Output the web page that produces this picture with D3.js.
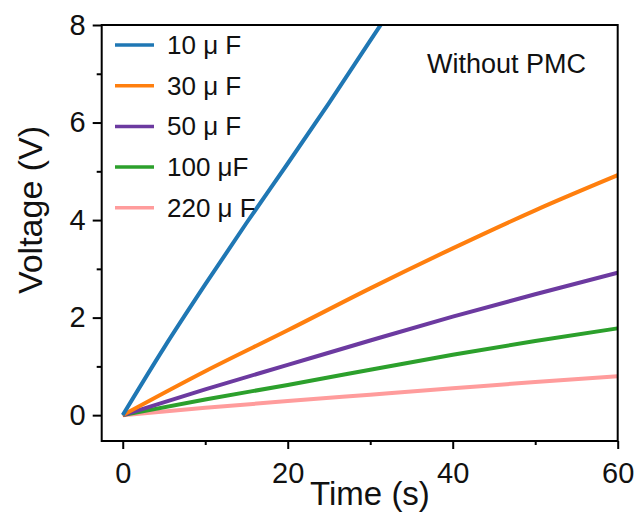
<!DOCTYPE html>
<html>
<head>
<meta charset="utf-8">
<script src="https://cdn.jsdelivr.net/npm/d3@7"></script>
<style>
  body { margin: 0; background: #fff; }
  svg text { font-family: "Liberation Sans", Arial, sans-serif; fill: #111; }
</style>
</head>
<body>
<div id="chart"></div>
<script>
// data
var times = [0, 10, 20, 30, 40, 50, 60];
var blueTimes = [0, 5, 10, 15, 20, 25, 30, 35];
var c10 = [0, 1.38, 2.68, 3.94, 5.16, 6.4, 7.68, 8.95];
var c30 = [0, 0.9, 1.74, 2.6, 3.42, 4.2, 4.92];
var c50 = [0, 0.53, 1.03, 1.53, 2.02, 2.48, 2.92];
var c100 = [0, 0.32, 0.62, 0.93, 1.24, 1.52, 1.78];
var c220 = [0, 0.15, 0.29, 0.42, 0.55, 0.68, 0.8];
var labels = ["10 μ F", "30 μ F", "50 μ F", "100 μF", "220 μ F"];
var colors = ["#1f77b4", "#ff7f0e", "#6c3aa0", "#2ca02c", "#ff9c9c"];
var xTicks = [0, 20, 40, 60];
var xMinor = [10, 30, 50];
var yTicks = [0, 2, 4, 6, 8];
var yMinor = [1, 3, 5, 7];

var width = 639, height = 516;
var margin = {top: 25, right: 21.3, bottom: 75, left: 101.7};

var series = [
  {t: blueTimes, v: c10},
  {t: times, v: c30},
  {t: times, v: c50},
  {t: times, v: c100},
  {t: times, v: c220}
];

var svg = d3.select("#chart").append("svg")
  .attr("width", width)
  .attr("height", height);

var x = d3.scaleLinear().domain([-2.55, 60]).range([margin.left, width - margin.right]);
var y = d3.scaleLinear().domain([-0.53, 8]).range([height - margin.bottom, margin.top]);

svg.append("clipPath").attr("id", "clip")
  .append("rect")
  .attr("x", margin.left).attr("y", margin.top)
  .attr("width", width - margin.left - margin.right)
  .attr("height", height - margin.top - margin.bottom);

var line = d3.line()
  .x(function(d) { return x(d[0]); })
  .y(function(d) { return y(d[1]); })
  .curve(d3.curveMonotoneX);

// draw smaller ones first so blue sits on top
series.slice().reverse().forEach(function(s, i) {
  var idx = series.length - 1 - i;
  var pts = s.t.map(function(t, j) { return [t, s.v[j]]; });
  svg.append("path")
    .datum(pts)
    .attr("clip-path", "url(#clip)")
    .attr("fill", "none")
    .attr("stroke", colors[idx])
    .attr("stroke-width", 4)
    .attr("d", line);
});

// frame
svg.append("rect")
  .attr("x", margin.left).attr("y", margin.top)
  .attr("width", width - margin.left - margin.right)
  .attr("height", height - margin.top - margin.bottom)
  .attr("fill", "none")
  .attr("stroke", "#000")
  .attr("stroke-width", 2);

// axes
svg.append("g")
  .attr("transform", "translate(0," + (height - margin.bottom) + ")")
  .call(d3.axisBottom(x).tickValues(xTicks).tickSize(8).tickPadding(13));
svg.append("g")
  .attr("transform", "translate(0," + (height - margin.bottom) + ")")
  .call(d3.axisBottom(x).tickValues(xMinor).tickSize(4).tickFormat(""));

svg.append("g")
  .attr("transform", "translate(" + margin.left + ",0)")
  .call(d3.axisLeft(y).tickValues(yTicks).tickSize(9).tickPadding(7));
svg.append("g")
  .attr("transform", "translate(" + margin.left + ",0)")
  .call(d3.axisLeft(y).tickValues(yMinor).tickSize(5).tickFormat(""));

svg.selectAll(".domain").remove();
svg.selectAll(".tick line").attr("stroke", "#000").attr("stroke-width", 2);
svg.selectAll(".tick text")
  .style("font-size", "29px")
  .style("font-family", "'Liberation Sans', Arial, sans-serif")
  .attr("fill", "#111");

// axis titles
svg.append("text")
  .attr("x", 370).attr("y", 505)
  .attr("text-anchor", "middle")
  .style("font-size", "33px")
  .text("Time (s)");

svg.append("text")
  .attr("transform", "translate(42,210) rotate(-90)")
  .attr("text-anchor", "middle")
  .style("font-size", "34px")
  .text("Voltage (V)");

// annotation
svg.append("text")
  .attr("x", 427).attr("y", 73)
  .style("font-size", "27px")
  .text("Without PMC");

// legend
var legend = svg.append("g").attr("transform", "translate(115,45)");
labels.forEach(function(lab, i) {
  var g = legend.append("g").attr("transform", "translate(0," + (i * 40.7) + ")");
  g.append("line")
    .attr("x1", 0).attr("x2", 39)
    .attr("stroke", colors[i])
    .attr("stroke-width", 3.5);
  g.append("text")
    .attr("x", 52).attr("y", 9)
    .style("font-size", "26px")
    .text(lab);
});
</script>
</body>
</html>
